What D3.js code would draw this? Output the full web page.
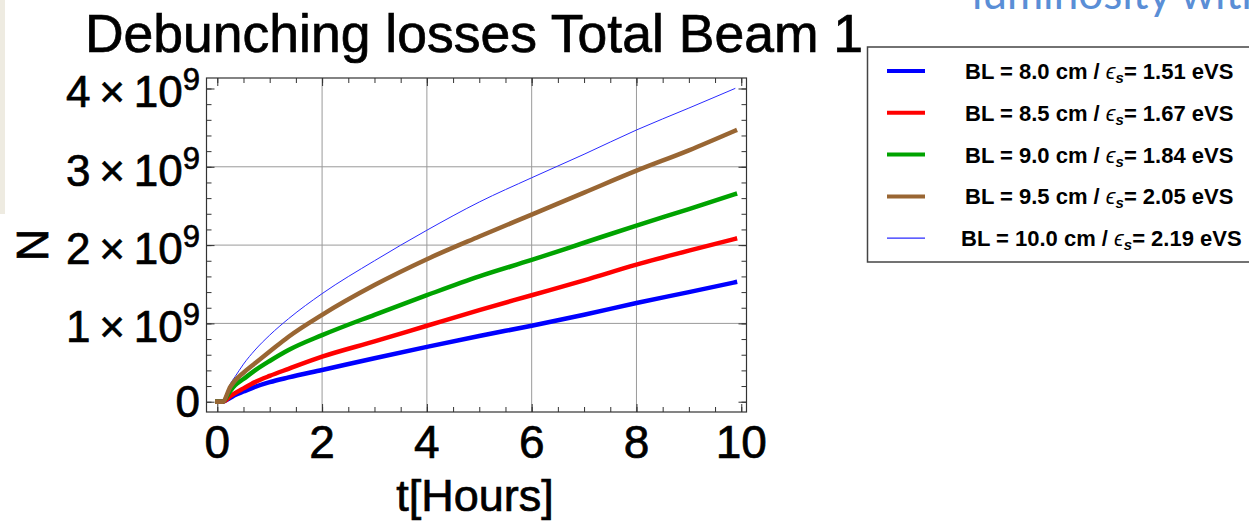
<!DOCTYPE html>
<html><head><meta charset="utf-8">
<script src="https://cdn.jsdelivr.net/npm/d3@7/dist/d3.min.js"></script>
<style>html,body{margin:0;padding:0;background:#fff;overflow:hidden}</style>
</head><body>
<svg id="c" width="1249" height="524"></svg>
<script>
// ---- data (N in units of 1e9, t in hours) ----
const tHours = [0, 0.1, 0.25, 0.34, 0.5, 0.72, 1, 1.36, 2, 3, 4, 5, 6, 7, 8, 9, 9.88];
const bl80  = [0, 0, 0.05, 0.085, 0.13, 0.19, 0.25, 0.31, 0.405, 0.555, 0.70, 0.84, 0.97, 1.11, 1.26, 1.40, 1.525];
const bl85  = [0, 0, 0.07, 0.11, 0.17, 0.25, 0.33, 0.42, 0.575, 0.77, 0.97, 1.17, 1.36, 1.55, 1.75, 1.93, 2.08];
const bl90  = [0, 0, 0.14, 0.21, 0.29, 0.40, 0.52, 0.66, 0.85, 1.11, 1.36, 1.60, 1.81, 2.03, 2.25, 2.46, 2.65];
const bl95  = [0, 0, 0.19, 0.27, 0.37, 0.49, 0.64, 0.83, 1.11, 1.49, 1.82, 2.11, 2.39, 2.67, 2.95, 3.21, 3.46];
const bl100 = [0, 0, 0.23, 0.32, 0.48, 0.66, 0.85, 1.06, 1.38, 1.80, 2.19, 2.55, 2.86, 3.16, 3.47, 3.75, 4.00];
const seriesLabels = ["BL = 8.0 cm / ", "BL = 8.5 cm / ", "BL = 9.0 cm / ", "BL = 9.5 cm / ", "BL = 10.0 cm / "];
const seriesEps = ["1.51", "1.67", "1.84", "2.05", "2.19"];
const seriesColors = ["#0000ff", "#ff0000", "#00a300", "#996633", "#2a2aff"];
const seriesWidths = [4.5, 4.5, 4.5, 4.5, 1];
const xTicks = [0, 2, 4, 6, 8, 10];
const yTicks = [0, 1, 2, 3, 4];
const yExp = 9;

const seriesValues = [bl80, bl85, bl90, bl95, bl100];

const svg = d3.select("#c");
const F = "'Liberation Sans', Arial, Helvetica, sans-serif";

// background strip on the left (slide edge)
svg.append("rect").attr("x", 0).attr("y", 0).attr("width", 5).attr("height", 214).attr("fill", "#eeebe1");

// slide text at top right (cut by the top edge as in the source)
svg.append("text").attr("x", 972).attr("y", 9).attr("font-family", "Lato, 'Open Sans', sans-serif")
  .attr("font-size", 44).attr("fill", "#5a8ed6").text("luminosity with");

const L = 206.5, R = 746.5, T = 78, B = 412;
const x = d3.scaleLinear().domain([-0.206, 10.1]).range([L, R]);
const y = d3.scaleLinear().domain([-0.1315, 4.134]).range([B, T]);

// gridlines
const g = svg.append("g");
g.selectAll(".gx").data(xTicks.filter(d => d > 0 && d < 10)).join("line")
  .attr("x1", d => x(d)).attr("x2", d => x(d)).attr("y1", T).attr("y2", B)
  .attr("stroke", "#9a9a9a").attr("stroke-width", 1);
g.selectAll(".gy").data(yTicks.filter(d => d > 0 && d < 4)).join("line")
  .attr("x1", L).attr("x2", R).attr("y1", d => y(d)).attr("y2", d => y(d))
  .attr("stroke", "#9a9a9a").attr("stroke-width", 1);

// axes with inward ticks (minor + major)
const xMinor = d3.range(0, 10.01, 0.5);
const yMinor = d3.range(0, 4.01, 0.2);
function addAxis(axisGen, tr) {
  const a = svg.append("g").attr("transform", tr).call(axisGen);
  a.selectAll("text").remove();
  a.select(".domain").remove();
  a.selectAll("line").attr("stroke", "#333");
}
addAxis(d3.axisBottom(x).tickValues(xMinor).tickSize(-5), `translate(0,${B})`);
addAxis(d3.axisTop(x).tickValues(xMinor).tickSize(-5), `translate(0,${T})`);
addAxis(d3.axisBottom(x).tickValues(xTicks).tickSize(-8), `translate(0,${B})`);
addAxis(d3.axisTop(x).tickValues(xTicks).tickSize(-8), `translate(0,${T})`);
addAxis(d3.axisLeft(y).tickValues(yMinor).tickSize(-5), `translate(${L},0)`);
addAxis(d3.axisRight(y).tickValues(yMinor).tickSize(-5), `translate(${R},0)`);
addAxis(d3.axisLeft(y).tickValues(yTicks).tickSize(-8), `translate(${L},0)`);
addAxis(d3.axisRight(y).tickValues(yTicks).tickSize(-8), `translate(${R},0)`);

// frame
svg.append("rect").attr("x", L).attr("y", T).attr("width", R - L).attr("height", B - T)
  .attr("fill", "none").attr("stroke", "#333").attr("stroke-width", 1.2);

// series lines
svg.append("clipPath").attr("id", "clip").append("rect")
  .attr("x", L).attr("y", T).attr("width", R - L).attr("height", B - T);
const line = d3.line().x((d, i) => x(tHours[i])).y(d => y(d)).curve(d3.curveMonotoneX);
const drawOrder = [4, 0, 1, 2, 3];
const lg = svg.append("g").attr("clip-path", "url(#clip)");
drawOrder.forEach(k => {
  lg.append("path").datum(seriesValues[k]).attr("d", line)
    .attr("fill", "none").attr("stroke", seriesColors[k]).attr("stroke-width", seriesWidths[k])
    .attr("stroke-linejoin", "round").attr("stroke-linecap", k === 4 ? "round" : "square");
});

// text helper with slight weight
function txt(sel) { return sel.attr("font-family", F).attr("fill", "#000").attr("stroke", "#000").attr("stroke-width", 0.7); }

// tick labels
xTicks.forEach(v => {
  txt(svg.append("text")).attr("x", x(v)).attr("y", 458).attr("text-anchor", "middle")
    .attr("font-size", 46).text(v);
});
yTicks.forEach(v => {
  const t = txt(svg.append("text")).attr("x", 200).attr("text-anchor", "end").attr("font-size", 44);
  if (v === 0) {
    t.attr("y", y(v) + 15).text("0");
  } else {
    t.attr("y", y(v) + 19);
    t.append("tspan").text(v + "\u2009\u00d7\u200910");
    t.append("tspan").attr("dy", -17).attr("font-size", 31).text(yExp);
  }
});

// title & axis labels
txt(svg.append("text")).attr("x", 474).attr("y", 52).attr("text-anchor", "middle")
  .attr("font-size", 53.5).text("Debunching losses Total Beam 1");
txt(svg.append("text")).attr("x", 475).attr("y", 511).attr("text-anchor", "middle")
  .attr("font-size", 45).text("t[Hours]");
txt(svg.append("text")).attr("transform", "translate(48,245) rotate(-90)").attr("text-anchor", "middle")
  .attr("font-size", 45).text("N");

// legend
svg.append("rect").attr("x", 867.5).attr("y", 47).attr("width", 400).attr("height", 215)
  .attr("fill", "#fff").attr("stroke", "#444").attr("stroke-width", 1.5);
seriesLabels.forEach((lab, i) => {
  const yy = 71 + i * 41.8;
  svg.append("line").attr("x1", 887).attr("x2", 925).attr("y1", yy).attr("y2", yy)
    .attr("stroke", seriesColors[i]).attr("stroke-width", seriesWidths[i] === 1 ? 1.2 : 4);
  const t = svg.append("text").attr("x", i === 4 ? 961 : 965).attr("y", yy + 8)
    .attr("font-family", F).attr("font-size", 22).attr("font-weight", "bold");
  t.append("tspan").text(lab);
  t.append("tspan").attr("font-style", "italic").attr("font-weight", "normal").text("\u03f5");
  t.append("tspan").attr("font-style", "italic").attr("font-size", 15).attr("dy", 4).text("s");
  t.append("tspan").attr("dy", -4).text("= " + seriesEps[i] + " eVS");
});
</script>
</body></html>
